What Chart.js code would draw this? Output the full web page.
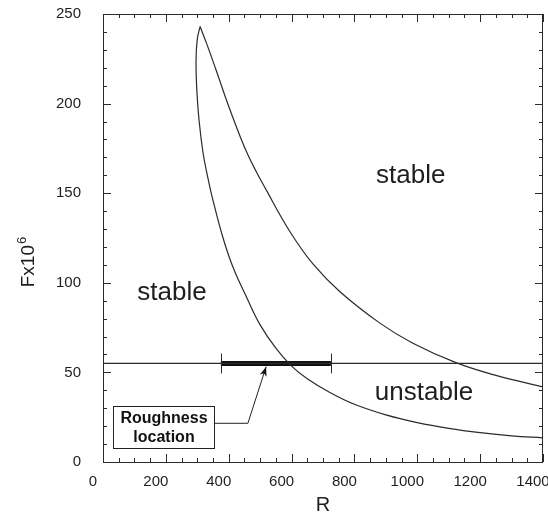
<!DOCTYPE html>
<html><head><meta charset="utf-8">
<script src="https://cdn.jsdelivr.net/npm/chart.js@4.4.0/dist/chart.umd.min.js"></script>
<style>html,body{margin:0;padding:0;background:#fff;overflow:hidden}#wrap{width:548px;height:517px}</style>
</head><body><div id="wrap"><canvas id="c" width="548" height="517"></canvas></div>
<script>
// Neutral curve, lower branch (from nose to high R)
const rLower = [309, 300, 296, 299, 306, 318, 332, 350, 382, 414, 458, 500, 550, 600, 650, 722, 800, 900, 1000, 1100, 1200, 1300, 1400];
const fLower = [243, 236, 224, 206, 190, 173, 160, 146, 125, 108.5, 91.5, 76.5, 63.5, 53.5, 46.5, 38.8, 32.2, 26.3, 22.0, 18.8, 16.4, 14.6, 13.5];
// Neutral curve, upper branch
const rUpper = [309, 331, 359.5, 404, 461, 522, 595, 668, 754, 881, 986, 1125, 1253, 1400];
const fUpper = [243, 232.9, 218.9, 196.6, 171.4, 151, 128.5, 110.5, 95, 77.5, 66.3, 55.3, 48.2, 41.9];
// Constant F line and roughness location
const lineR = [0, 1400];
const lineF = 55;
const roughR = [375, 725];
// Tick labels
const xTicks = [0, 200, 400, 600, 800, 1000, 1200, 1400];
const yTicks = [0, 50, 100, 150, 200, 250];
const xTitle = 'R';
const yTitle = ['Fx10', '6'];

const FONT = '"Liberation Sans", Arial, Helvetica, sans-serif';
const INK = '#1e1e1e';

const pts = (rs, fs) => rs.map((r, i) => ({x: r, y: Array.isArray(fs) ? fs[i] : fs}));

// Annotation placement in data coordinates
const labels = [
  {text: 'stable', r: 109, f: 90.4},
  {text: 'stable', r: 869, f: 155.7},
  {text: 'unstable', r: 865, f: 34.5}
];
const boxR = [32, 353], boxF = [7.7, 31.1];
const arrowR = [353, 461, 519], arrowF = [21.6, 21.6, 53.2];

const frame = {
  id: 'frame',
  afterDraw(chart) {
    const {ctx, chartArea: a, scales: {x, y}} = chart;
    ctx.save();
    ctx.strokeStyle = '#2a2a2a';
    ctx.lineWidth = 1;
    ctx.strokeRect(Math.round(a.left) + 0.5, Math.round(a.top) + 0.5, Math.round(a.right - a.left) - 1, Math.round(a.bottom - a.top));
    const seg = (x1, y1, x2, y2) => { ctx.beginPath(); ctx.moveTo(x1, y1); ctx.lineTo(x2, y2); ctx.stroke(); };
    for (let v = 0; v <= 1400; v += 50) {
      const px = Math.round(x.getPixelForValue(v)) + 0.5;
      const len = v % 200 === 0 ? 8 : 4;
      seg(px, a.bottom, px, a.bottom - len);
      seg(px, a.top, px, a.top + len);
    }
    for (let v = 0; v <= 250; v += 10) {
      const py = Math.round(y.getPixelForValue(v)) + 0.5;
      const len = v % 50 === 0 ? 8 : 4;
      seg(a.left, py, a.left + len, py);
      seg(a.right, py, a.right - len, py);
    }
    // end ticks of roughness bar
    roughR.forEach(r => {
      const px = Math.round(x.getPixelForValue(r)) + 0.5;
      seg(px, y.getPixelForValue(lineF + 5.5), px, y.getPixelForValue(lineF - 5.5));
    });
    // region labels
    ctx.fillStyle = INK;
    ctx.font = '26px ' + FONT;
    ctx.textBaseline = 'alphabetic';
    ctx.textAlign = 'left';
    labels.forEach(l => ctx.fillText(l.text, x.getPixelForValue(l.r), y.getPixelForValue(l.f)));
    // roughness box
    const bx1 = Math.round(x.getPixelForValue(boxR[0])) + 0.5, bx2 = Math.round(x.getPixelForValue(boxR[1])) + 0.5;
    const by1 = Math.round(y.getPixelForValue(boxF[1])) + 0.5, by2 = Math.round(y.getPixelForValue(boxF[0])) + 0.5;
    ctx.fillStyle = '#fff';
    ctx.fillRect(bx1, by1, bx2 - bx1, by2 - by1);
    ctx.strokeStyle = '#222';
    ctx.strokeRect(bx1, by1, bx2 - bx1, by2 - by1);
    ctx.fillStyle = '#111';
    ctx.font = 'bold 16px ' + FONT;
    ctx.textAlign = 'center';
    ctx.textBaseline = 'middle';
    const cx = (bx1 + bx2) / 2;
    ctx.fillText('Roughness', cx, by1 + 12);
    ctx.fillText('location', cx, by1 + 31);
    // arrow
    ctx.strokeStyle = '#222';
    ctx.beginPath();
    arrowR.forEach((r, i) => {
      const px = x.getPixelForValue(r), py = y.getPixelForValue(arrowF[i]);
      i ? ctx.lineTo(px, py) : ctx.moveTo(px, py);
    });
    ctx.stroke();
    const tx = x.getPixelForValue(arrowR[2]), ty = y.getPixelForValue(arrowF[2]);
    const sx = x.getPixelForValue(arrowR[1]), sy = y.getPixelForValue(arrowF[1]);
    const ang = Math.atan2(ty - sy, tx - sx);
    ctx.fillStyle = '#111';
    ctx.beginPath();
    ctx.moveTo(tx, ty);
    ctx.lineTo(tx - 10 * Math.cos(ang - 0.35), ty - 10 * Math.sin(ang - 0.35));
    ctx.lineTo(tx - 7 * Math.cos(ang), ty - 7 * Math.sin(ang));
    ctx.lineTo(tx - 10 * Math.cos(ang + 0.35), ty - 10 * Math.sin(ang + 0.35));
    ctx.closePath();
    ctx.fill();
    // y title with superscript
    ctx.save();
    ctx.translate(27, 262);
    ctx.rotate(-Math.PI / 2);
    ctx.fillStyle = INK;
    ctx.textBaseline = 'alphabetic';
    ctx.textAlign = 'left';
    ctx.font = '19px ' + FONT;
    const w1 = ctx.measureText(yTitle[0]).width;
    ctx.font = '13px ' + FONT;
    const w2 = ctx.measureText(yTitle[1]).width;
    const x0 = -(w1 + w2 + 1) / 2;
    ctx.font = '19px ' + FONT;
    ctx.fillText(yTitle[0], x0, 7);
    ctx.font = '13px ' + FONT;
    ctx.fillText(yTitle[1], x0 + w1 + 1, -1);
    ctx.restore();
    ctx.restore();
  }
};

const lineStyle = {showLine: true, borderColor: '#2b2b2b', borderWidth: 1.2, pointRadius: 0, fill: false};

new Chart(document.getElementById('c'), {
  type: 'scatter',
  data: {
    datasets: [
      {...lineStyle, data: pts(rLower, fLower), tension: 0.4},
      {...lineStyle, data: pts(rUpper, fUpper), tension: 0.4},
      {...lineStyle, data: pts(lineR, lineF), tension: 0},
      {...lineStyle, data: pts(roughR, lineF), borderWidth: 5, borderColor: '#111', tension: 0}
    ]
  },
  options: {
    animation: false,
    responsive: false,
    layout: {padding: {top: 14, right: 5, left: 0, bottom: 0}},
    plugins: {legend: {display: false}, tooltip: {enabled: false}},
    scales: {
      x: {
        type: 'linear', min: 0, max: 1400,
        grid: {display: false, drawTicks: false},
        border: {display: false},
        afterBuildTicks: s => { s.ticks = xTicks.map(v => ({value: v})); },
        ticks: {padding: 11, labelOffset: -10, maxRotation: 0, autoSkip: false, color: INK, font: {size: 15, family: FONT}, callback: v => String(v)},
        title: {display: true, text: xTitle, color: INK, font: {size: 20, family: FONT}, padding: {top: 6, bottom: 0}},
        afterFit: s => { s.height = 55; s.paddingLeft = 0; s.paddingRight = 0; }
      },
      y: {
        type: 'linear', min: 0, max: 250,
        grid: {display: false, drawTicks: false},
        border: {display: false},
        afterBuildTicks: s => { s.ticks = yTicks.map(v => ({value: v})); },
        ticks: {padding: 22, color: INK, font: {size: 15, family: FONT}, callback: v => String(v)},
        afterFit: s => { s.width = 103; s.paddingTop = 0; s.paddingBottom = 0; }
      }
    }
  },
  plugins: [frame]
});
</script>
</body></html>
